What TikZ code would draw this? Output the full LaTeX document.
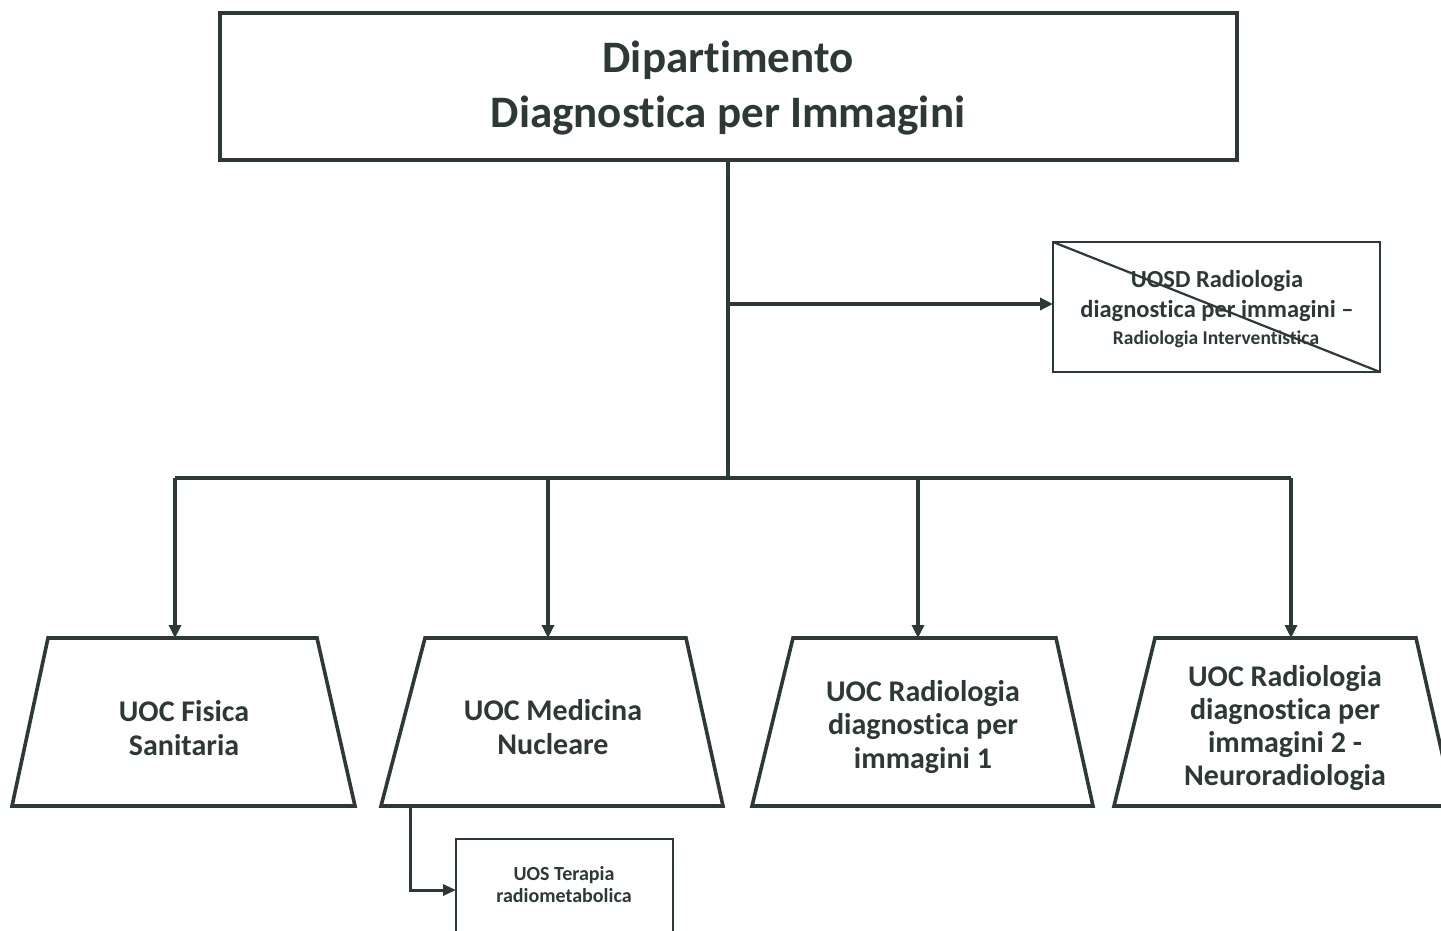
\documentclass[tikz,border=0pt]{standalone}
\usepackage{fontspec}
\setmainfont{Carlito}[Ligatures={TeX,NoCommon}]
\usetikzlibrary{arrows.meta}
\definecolor{ink}{HTML}{2C3934}
\begin{document}
\begin{tikzpicture}[x=1pt,y=-1pt,
  line join=miter,
  every node/.style={text=ink, align=center, inner sep=0pt},
  ttl/.style={font=\bfseries\fontsize{45}{56}\selectfont},
  mid/.style={font=\bfseries\fontsize{24.5}{30}\selectfont},
  sml/.style={font=\bfseries\fontsize{19.5}{22}\selectfont},
  uoc/.style={font=\bfseries\fontsize{30}{33.3}\selectfont},
  uos/.style={font=\bfseries\fontsize{20}{22}\selectfont},
  conn/.style={draw=ink, line width=3.8pt},
  arr/.style={conn, -{Triangle[length=13pt,width=12pt]}},
  trap/.style={draw=ink, line width=3.6pt, fill=white},
  boxA/.style={draw=ink, line width=4pt},
  boxB/.style={draw=ink, line width=2.4pt}]
\useasboundingbox (0,0) rectangle (1441,930);
\fill[white] (0,0) rectangle (1441,930);

% top box
\draw[boxA] (220,13) rectangle (1237,160);
\node[ttl] (topA) at (728,60) {Dipartimento};
\node[ttl] (topB) at (728,116) {Diagnostica per Immagini};
\coordinate (topbot) at (728,160);

% UOSD box
\draw[boxB] (1053,242) rectangle (1380,372);
\coordinate (uosdL) at (1053,304);
\node[mid] (u1) at (1217,281) {UOSD Radiologia};
\node[mid] (u2) at (1217,311) {diagnostica per immagini –};
\node[sml] (u3) at (1216,339) {Radiologia Interventistica};
\draw[draw=ink, line width=2.2pt] (1053,242) -- (1380,372);

% trunk
\coordinate (j1) at (728,304);
\coordinate (j2) at (728,478);
\draw[conn] (topbot) -- (j2);
\draw[arr] (j1) -- (uosdL);

% bus
\coordinate (b1) at (175,478);
\coordinate (b2) at (548,478);
\coordinate (b3) at (918,478);
\coordinate (b4) at (1291,478);
\draw[conn] (b1) -- (b4);

% trapezoids
\draw[trap] (48,638) -- (317,638) -- (355,806) -- (12,806) -- cycle;
\draw[trap] (425,638) -- (686,638) -- (723,806) -- (381,806) -- cycle;
\draw[trap] (793,638) -- (1056,638) -- (1093,806) -- (752,806) -- cycle;
\draw[trap] (1155,638) -- (1416,638) -- (1454,806) -- (1114,806) -- cycle;

\coordinate (t1) at (175,638);
\coordinate (t2) at (548,638);
\coordinate (t3) at (918,638);
\coordinate (t4) at (1291,638);

\draw[arr] (b1) -- (t1);
\draw[arr] (b2) -- (t2);
\draw[arr] (b3) -- (t3);
\draw[arr] (b4) -- (t4);

\node[uoc] (n1) at (184,728) {UOC Fisica\\Sanitaria};
\node[uoc] (n2) at (553,727) {UOC Medicina\\Nucleare};
\node[uoc] (n3) at (923,727) {UOC Radiologia\\diagnostica per\\immagini 1};
\node[uoc] (n4) at (1285,728) {UOC Radiologia\\diagnostica per\\immagini 2 -\\Neuroradiologia};

% UOS box
\draw[boxB] (456,839) rectangle (673,940);
\coordinate (uosL) at (456,890);
\coordinate (m1) at (410,806);
\coordinate (m2) at (410,890);
\node[uos] (s1) at (564,885) {UOS Terapia\\radiometabolica};
\draw[draw=ink, line width=3pt, -{Triangle[length=13pt,width=11pt]}] (m1) -- (m2) -- (uosL);
\end{tikzpicture}
\end{document}
